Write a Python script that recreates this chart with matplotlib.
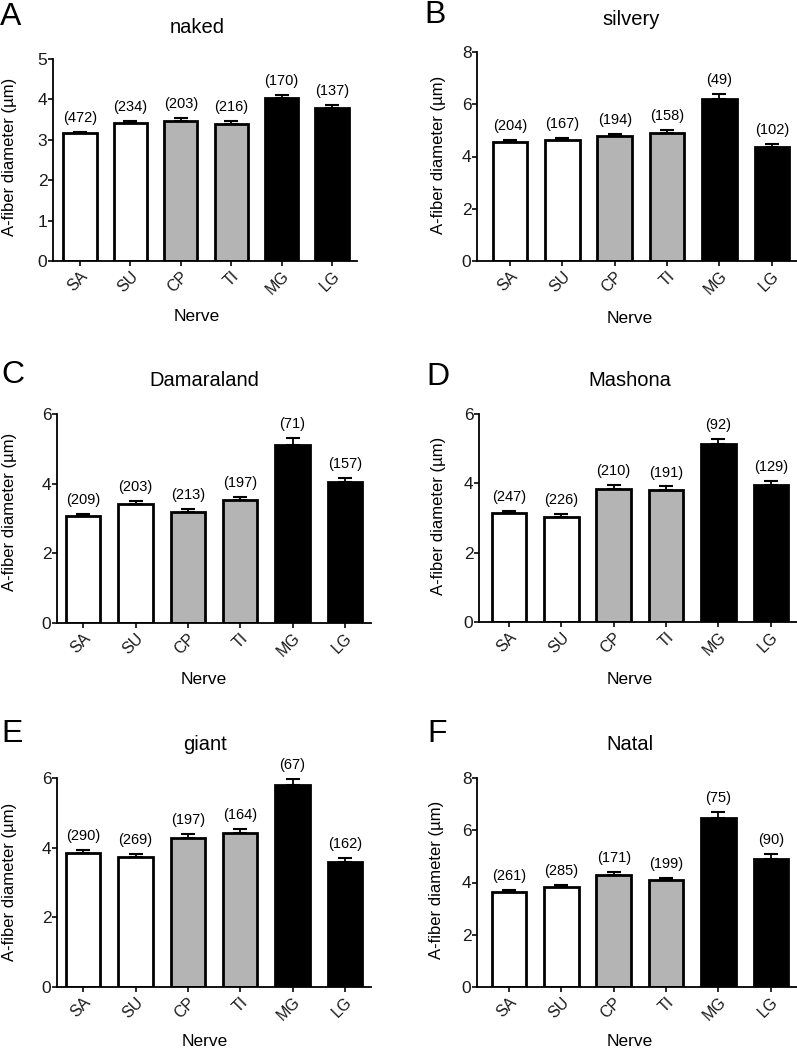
import matplotlib
matplotlib.use("Agg")
import matplotlib.pyplot as plt
import numpy as np

plt.rcParams['font.family'] = ['Liberation Sans', 'DejaVu Sans']

nerves = ["SA", "SU", "CP", "TI", "MG", "LG"]
fills = ["white", "white", "#b4b4b4", "#b4b4b4", "black", "black"]

panel_letters = ["A", "B", "C", "D", "E", "F"]
titles = ["naked", "silvery", "Damaraland", "Mashona", "giant", "Natal"]

means_A = [3.17, 3.42, 3.47, 3.39, 4.03, 3.79]
err_A = [0.03, 0.05, 0.07, 0.07, 0.09, 0.08]
n_A = [472, 234, 203, 216, 170, 137]

means_B = [4.57, 4.63, 4.77, 4.91, 6.19, 4.35]
err_B = [0.08, 0.08, 0.08, 0.1, 0.22, 0.12]
n_B = [204, 167, 194, 158, 49, 102]

means_C = [3.06, 3.43, 3.19, 3.52, 5.12, 4.04]
err_C = [0.08, 0.07, 0.07, 0.11, 0.18, 0.11]
n_C = [209, 203, 213, 197, 71, 157]

means_D = [3.13, 3.04, 3.85, 3.81, 5.13, 3.94]
err_D = [0.07, 0.08, 0.09, 0.1, 0.16, 0.12]
n_D = [247, 226, 210, 191, 92, 129]

means_E = [3.86, 3.72, 4.28, 4.42, 5.80, 3.59]
err_E = [0.07, 0.09, 0.1, 0.12, 0.16, 0.11]
n_E = [290, 269, 197, 164, 67, 162]

means_F = [3.65, 3.83, 4.28, 4.08, 6.48, 4.91]
err_F = [0.08, 0.08, 0.11, 0.09, 0.22, 0.18]
n_F = [261, 285, 171, 199, 75, 90]

ymax = [5, 8, 6, 6, 6, 8]
ystep = [1, 2, 2, 2, 2, 2]

all_means = [means_A, means_B, means_C, means_D, means_E, means_F]
all_err = [err_A, err_B, err_C, err_D, err_E, err_F]
all_n = [n_A, n_B, n_C, n_D, n_E, n_F]

W, H = 797, 1050
fig = plt.figure(figsize=(W / 100, H / 100), dpi=100)

# layout in pixels: left, right, top, bottom
boxes = [
    (53, 357, 59, 261),
    (477, 797, 52, 261),
    (57, 371, 414, 623),
    (479, 797, 414, 622),
    (57, 371, 778, 987),
    (477, 797, 778, 987),
]
xlims = [(-0.536, 5.496), (-0.63, 5.48), (-0.5, 5.5), (-0.57, 5.5), (-0.5, 5.5), (-0.61, 5.5)]
title_pos = [(197, 33), (631, 25), (204, 386), (630, 386), (205, 750), (630, 750)]
letter_pos = [(0, 25), (424, 23), (1, 383), (426, 385), (1, 742), (427, 742)]
xlabel_pos = [(197, 321), (630, 323), (204, 684), (630, 684), (205, 1046), (630, 1046)]
ylabel_pos = [(10, 157), (438, 155), (10, 512), (438, 516), (10, 882), (437, 880)]

x = np.arange(len(nerves))
for i in range(6):
    l, r, t, b = boxes[i]
    ax = fig.add_axes([l / W, 1 - b / H, (r - l) / W, (b - t) / H])
    ax.bar(x, all_means[i], width=0.66, color=fills, edgecolor="black",
           linewidth=2.0, zorder=2)
    ax.errorbar(x, all_means[i], yerr=[np.zeros(6), all_err[i]], fmt="none",
                ecolor="black", elinewidth=1.3, capsize=4.8, capthick=1.5, zorder=3)
    for xi, m, e, nn in zip(x, all_means[i], all_err[i], all_n[i]):
        ax.annotate(f"({nn})", (xi, m + e), xytext=(0, 5), textcoords="offset points",
                    ha="center", va="bottom", fontsize=10.5)
    ax.set_xlim(*xlims[i])
    ax.set_ylim(0, ymax[i])
    ax.set_yticks(np.arange(0, ymax[i] + 0.01, ystep[i]))
    ax.set_xticks(x)
    ax.set_xticklabels(nerves, rotation=45, ha="right", rotation_mode="anchor")
    for s in ["top", "right"]:
        ax.spines[s].set_visible(False)
    for s in ["left", "bottom"]:
        ax.spines[s].set_linewidth(1.3)
    ax.tick_params(axis="both", width=1.3, length=3.5, colors="#1a1a1a")
    ax.tick_params(axis="y", labelsize=12.5, pad=0.5)
    ax.tick_params(axis="x", labelsize=11.5, pad=2)

    fig.text(title_pos[i][0] / W, 1 - title_pos[i][1] / H, titles[i],
             ha="center", va="baseline", fontsize=14.5)
    fig.text(letter_pos[i][0] / W, 1 - letter_pos[i][1] / H, panel_letters[i],
             ha="left", va="baseline", fontsize=23)
    fig.text(xlabel_pos[i][0] / W, 1 - xlabel_pos[i][1] / H, "Nerve",
             ha="center", va="baseline", fontsize=12.5)
    fig.text(ylabel_pos[i][0] / W, 1 - ylabel_pos[i][1] / H, "A-fiber diameter (µm)",
             ha="center", va="center", rotation=90, fontsize=12)

fig.savefig("out.png", dpi=100)
